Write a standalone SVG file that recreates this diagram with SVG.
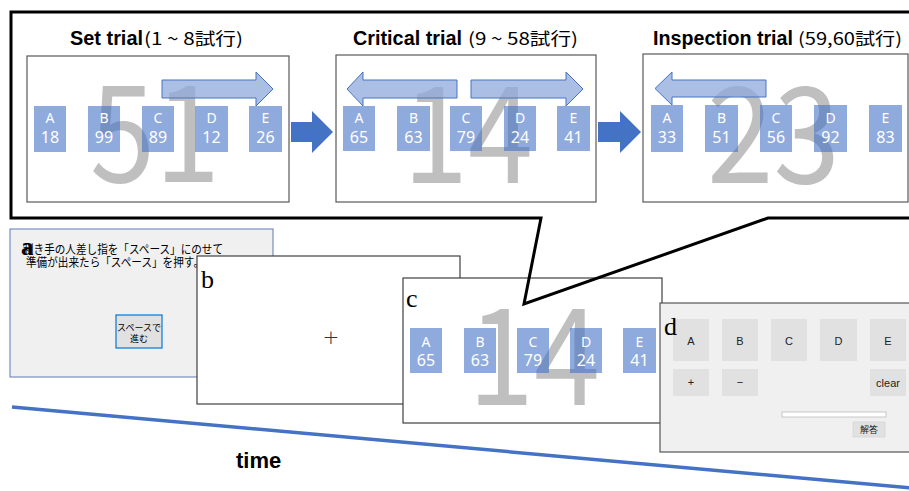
<svg xmlns="http://www.w3.org/2000/svg" width="909" height="491" viewBox="0 0 909 491">
<style>
.panel{fill:#fff;stroke:#595959;stroke-width:1.2}
.cell{fill:#4472C4;fill-opacity:0.6}
.cl{fill:#fff;font-family:"Noto Sans","Liberation Sans",sans-serif;font-size:14px;text-anchor:middle}
.cn{fill:#fff;font-family:"Noto Sans","Liberation Sans",sans-serif;font-size:16px;text-anchor:middle}
.big{fill:#7f7f7f;fill-opacity:0.5;font-family:"Noto Sans CJK JP","Noto Sans",sans-serif;font-weight:400;font-size:134px}
.harrow{fill:#8FAADC;fill-opacity:0.75;stroke:#4472C4;stroke-width:1}
.title{font-family:"Liberation Sans",Arial,sans-serif;font-weight:bold;font-size:20px;fill:#000}
.sub{font-family:"Noto Sans CJK JP","Liberation Sans",sans-serif;font-size:17px;fill:#000}
.lbl{font-family:"Liberation Serif","Times New Roman",serif;font-size:26px;fill:#000}
.jp{font-family:"Noto Sans CJK JP",sans-serif;font-size:12px;fill:#000}
.btn{fill:#e1e1e1}
.bt{font-family:"Liberation Sans",Arial,sans-serif;font-size:11px;fill:#222;text-anchor:middle}
</style>

<!-- Top panels -->
<g id="set-trial">
  <text class="title" x="70" y="45" textLength="73" lengthAdjust="spacingAndGlyphs">Set trial</text>
  <text class="sub" x="144" y="45" textLength="99" lengthAdjust="spacingAndGlyphs">(1 ~ 8試行)</text>
  <rect class="panel" x="27" y="56" width="262" height="146"/>
  <text class="big" x="90" y="182" textLength="130" lengthAdjust="spacingAndGlyphs">51</text>
  <path class="harrow" d="M162,80 H256 V72 L273,89 L256,106 V98 H162 Z"/>
  <g>
    <rect class="cell" x="34" y="106" width="32" height="46"/><text class="cl" x="50" y="123">A</text><text class="cn" x="50" y="143">18</text>
    <rect class="cell" x="88" y="106" width="32" height="46"/><text class="cl" x="104" y="123">B</text><text class="cn" x="104" y="143">99</text>
    <rect class="cell" x="142" y="106" width="32" height="46"/><text class="cl" x="158" y="123">C</text><text class="cn" x="158" y="143">89</text>
    <rect class="cell" x="195" y="106" width="33" height="46"/><text class="cl" x="211.5" y="123">D</text><text class="cn" x="211.5" y="143">12</text>
    <rect class="cell" x="249" y="106" width="33" height="46"/><text class="cl" x="265.5" y="123">E</text><text class="cn" x="265.5" y="143">26</text>
  </g>
</g>

<g id="critical-trial">
  <text class="title" x="353" y="45" textLength="109" lengthAdjust="spacingAndGlyphs">Critical trial</text>
  <text class="sub" x="468" y="45" textLength="110" lengthAdjust="spacingAndGlyphs">(9 ~ 58試行)</text>
  <rect class="panel" x="336" y="55" width="260" height="147"/>
  <text class="big" x="403" y="183" textLength="130" lengthAdjust="spacingAndGlyphs">14</text>
  <path class="harrow" d="M457,80 H363 V72 L347,89 L363,106 V98 H457 Z"/>
  <path class="harrow" d="M471,80 H566 V72 L583,89 L566,106 V98 H471 Z"/>
  <g>
    <rect class="cell" x="343" y="106" width="32" height="45"/><text class="cl" x="359" y="123">A</text><text class="cn" x="359" y="143">65</text>
    <rect class="cell" x="397" y="106" width="33" height="45"/><text class="cl" x="413.5" y="123">B</text><text class="cn" x="413.5" y="143">63</text>
    <rect class="cell" x="450" y="106" width="32" height="45"/><text class="cl" x="466" y="123">C</text><text class="cn" x="466" y="143">79</text>
    <rect class="cell" x="504" y="106" width="32" height="45"/><text class="cl" x="520" y="123">D</text><text class="cn" x="520" y="143">24</text>
    <rect class="cell" x="557" y="106" width="33" height="45"/><text class="cl" x="573.5" y="123">E</text><text class="cn" x="573.5" y="143">41</text>
  </g>
</g>

<g id="inspection-trial">
  <text class="title" x="653" y="45" textLength="140" lengthAdjust="spacingAndGlyphs">Inspection trial</text>
  <text class="sub" x="798" y="45" textLength="104" lengthAdjust="spacingAndGlyphs">(59,60試行)</text>
  <rect class="panel" x="643" y="54" width="265" height="148"/>
  <text class="big" x="707" y="183" textLength="133" lengthAdjust="spacingAndGlyphs">23</text>
  <path class="harrow" d="M766,80 H672 V72 L655,88.5 L672,105 V97 H766 Z"/>
  <g>
    <rect class="cell" x="651" y="105" width="32" height="47"/><text class="cl" x="667" y="123">A</text><text class="cn" x="667" y="143">33</text>
    <rect class="cell" x="705" y="105" width="33" height="47"/><text class="cl" x="721.5" y="123">B</text><text class="cn" x="721.5" y="143">51</text>
    <rect class="cell" x="760" y="105" width="32" height="47"/><text class="cl" x="776" y="123">C</text><text class="cn" x="776" y="143">56</text>
    <rect class="cell" x="814" y="105" width="33" height="47"/><text class="cl" x="830.5" y="123">D</text><text class="cn" x="830.5" y="143">92</text>
    <rect class="cell" x="869" y="105" width="33" height="47"/><text class="cl" x="885.5" y="123">E</text><text class="cn" x="885.5" y="143">83</text>
  </g>
</g>

<!-- Connectors -->
<g id="connectors">
  <path d="M291,122 H312 V111 L333,132 L312,153 V142 H291 Z" fill="#4472C4"/>
  <path d="M598,122 H620 V111 L641,132 L620,153 V142 H598 Z" fill="#4472C4"/>
  <line x1="12" y1="407" x2="912" y2="488" stroke="#4472C4" stroke-width="3.5"/>
</g>
<text x="236" y="468" font-family="Liberation Sans, Arial, sans-serif" font-weight="bold" font-size="22" fill="#000">time</text>

<!-- Bottom screens -->
<g id="screen-a">
  <rect x="10" y="229" width="263" height="148" fill="#f0f0f0" stroke="#5b7bb5" stroke-width="1"/>
  <text class="jp" x="23" y="254" textLength="200" lengthAdjust="spacingAndGlyphs">利き手の人差し指を「スペース」にのせて</text>
  <text class="jp" x="26" y="267" textLength="178" lengthAdjust="spacingAndGlyphs">準備が出来たら「スペース」を押す。</text>
  <text x="21" y="255" font-family="Liberation Serif, Times New Roman, serif" font-weight="bold" font-size="25" fill="#000">a</text>
  <rect x="116" y="315" width="46" height="33" fill="#e1e1e1" stroke="#0078d7" stroke-width="1.2"/>
  <text x="139" y="331" font-family="Noto Sans CJK JP, sans-serif" font-size="9" text-anchor="middle" fill="#000">スペースで</text>
  <text x="139" y="342" font-family="Noto Sans CJK JP, sans-serif" font-size="9" text-anchor="middle" fill="#000">進む</text>
</g>

<g id="screen-b">
  <rect x="197" y="256" width="263" height="148" fill="#fff" stroke="#404040" stroke-width="1.2"/>
  <text class="lbl" x="201" y="288">b</text>
  <text x="331" y="344" font-family="DejaVu Sans, sans-serif" font-weight="300" font-size="20" text-anchor="middle" fill="#333">+</text>
</g>

<g id="screen-c">
  <rect x="403" y="278" width="259" height="145" fill="#fff" stroke="#404040" stroke-width="1.2"/>
  <text class="lbl" x="406" y="307">c</text>
  <text class="big" x="468" y="405" textLength="132" lengthAdjust="spacingAndGlyphs">14</text>
  <rect class="cell" x="410" y="328" width="32" height="45"/><text class="cl" x="426" y="347">A</text><text class="cn" x="426" y="366">65</text>
  <rect class="cell" x="464" y="328" width="32" height="45"/><text class="cl" x="480" y="347">B</text><text class="cn" x="480" y="366">63</text>
  <rect class="cell" x="517" y="328" width="32" height="45"/><text class="cl" x="533" y="347">C</text><text class="cn" x="533" y="366">79</text>
  <rect class="cell" x="570" y="328" width="32" height="45"/><text class="cl" x="586" y="347">D</text><text class="cn" x="586" y="366">24</text>
  <rect class="cell" x="623" y="328" width="33" height="45"/><text class="cl" x="639.5" y="347">E</text><text class="cn" x="639.5" y="366">41</text>
</g>

<g id="screen-d">
  <rect x="660" y="303" width="260" height="149" fill="#f0f0f0" stroke="#555" stroke-width="1.2"/>
  <rect class="btn" x="673" y="319" width="36" height="42"/><text class="bt" x="691" y="345">A</text>
  <rect class="btn" x="722" y="319" width="36" height="42"/><text class="bt" x="740" y="345">B</text>
  <rect class="btn" x="771" y="319" width="36" height="42"/><text class="bt" x="789" y="345">C</text>
  <rect class="btn" x="820" y="319" width="37" height="42"/><text class="bt" x="838.5" y="345">D</text>
  <rect class="btn" x="870" y="319" width="36" height="42"/><text class="bt" x="888" y="345">E</text>
  <rect class="btn" x="673" y="369" width="36" height="27"/><text class="bt" x="691" y="386">+</text>
  <rect class="btn" x="722" y="369" width="36" height="27"/><text class="bt" x="740" y="386">−</text>
  <rect class="btn" x="870" y="369" width="36" height="27"/><text class="bt" x="888" y="387">clear</text>
  <rect x="782" y="412" width="104" height="5" fill="#fff" stroke="#bbb" stroke-width="0.8"/>
  <rect x="853" y="422" width="32" height="15" fill="#e1e1e1" stroke="#cfcfcf" stroke-width="0.6"/>
  <text x="869" y="433" font-family="Noto Sans CJK JP, sans-serif" font-size="9" text-anchor="middle" fill="#222">解答</text>
  <text class="lbl" x="664" y="335">d</text>
</g>

<!-- Callout frame -->
<path id="callout" d="M912,12 H11 V218 H541 L524,304 L768,218 H912" fill="none" stroke="#000" stroke-width="3"/>
</svg>
